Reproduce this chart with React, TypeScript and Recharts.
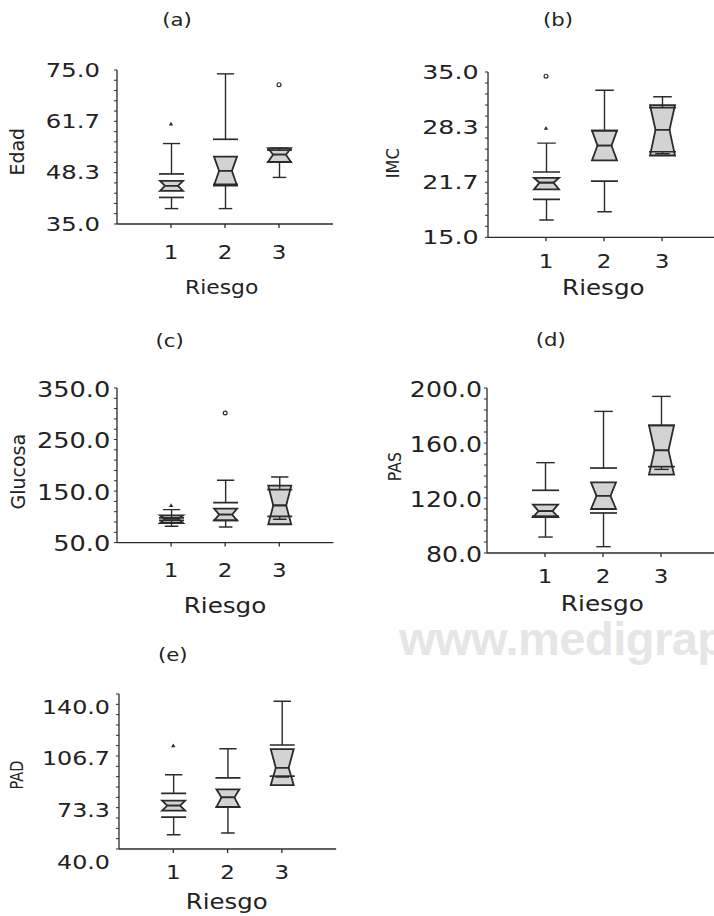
import React from "react";
import { ComposedChart, Bar, Scatter, XAxis, YAxis } from "recharts";

const groups = ["1", "2", "3"];
const ink = "#2b2b2b";
const boxFill = "#d3d3d3";
const font = "DejaVu Sans";

// (a) Edad
const edadLabels = ["35.0", "48.3", "61.7", "75.0"];
const edadLo = [39.0, 39.0, 47.1];
const edadCiLo = [41.9, 45.3, 51.1];
const edadQ1 = [43.6, 45.0, 51.1];
const edadMed = [44.9, 48.8, 53.0];
const edadQ3 = [46.2, 52.5, 54.7];
const edadCiHi = [48.0, 57.0, 54.2];
const edadHi = [55.9, 74.0, 54.7];
const edadOut = [
  { g: 1, v: 61.0, kind: "tri" },
  { g: 3, v: 71.2, kind: "circ" },
];

// (b) IMC
const imcLabels = ["15.0", "21.7", "28.3", "35.0"];
const imcLo = [17.1, 18.1, 25.1];
const imcCiLo = [19.6, 21.8, 25.35];
const imcQ1 = [20.8, 24.3, 24.9];
const imcMed = [21.6, 26.1, 28.0];
const imcQ3 = [22.2, 27.9, 31.0];
const imcCiHi = [22.9, 27.9, 30.7];
const imcHi = [26.4, 32.8, 32.0];
const imcOut = [
  { g: 1, v: 34.5, kind: "circ" },
  { g: 1, v: 28.2, kind: "tri" },
];

// (c) Glucosa
const gluLabels = ["50.0", "150.0", "250.0", "350.0"];
const gluLo = [81.6, 80.4, 95.2];
const gluCiLo = [93.0, 93.3, 101.0];
const gluQ1 = [88.0, 93.3, 85.6];
const gluMed = [96.0, 104.3, 122.0];
const gluQ3 = [103.0, 115.9, 160.6];
const gluCiHi = [98.0, 127.6, 152.8];
const gluHi = [114.0, 171.0, 177.4];
const gluOut = [
  { g: 1, v: 122.0, kind: "tri" },
  { g: 2, v: 301.5, kind: "circ" },
];

// (d) PAS
const pasLabels = ["80.0", "120.0", "160.0", "200.0"];
const pasLo = [91.6, 84.6, 140.8];
const pasCiLo = [106.8, 109.1, 142.8];
const pasQ1 = [106.2, 112.0, 137.0];
const pasMed = [110.5, 121.5, 154.7];
const pasQ3 = [115.2, 131.4, 172.8];
const pasCiHi = [125.6, 141.8, 172.8];
const pasHi = [145.7, 183.0, 193.9];
const pasOut: Out[] = [];

// (e) PAD
const padLabels = ["40.0", "73.3", "106.7", "140.0"];
const padLo = [49.2, 50.3, 86.4];
const padCiLo = [60.5, 67.1, 87.0];
const padQ1 = [64.8, 67.1, 81.2];
const padMed = [68.0, 73.3, 92.4];
const padQ3 = [71.2, 78.5, 104.5];
const padCiHi = [75.9, 85.9, 107.1];
const padHi = [87.9, 104.7, 135.3];
const padOut = [{ g: 1, v: 106.7, kind: "tri" }];

type Row = {
  name: string;
  g: number;
  lo: number;
  ciLo: number;
  q1: number;
  med: number;
  q3: number;
  ciHi: number;
  hi: number;
};
type Out = { g: number; v: number; kind: string };

function makeRows(
  lo: number[],
  ciLo: number[],
  q1: number[],
  med: number[],
  q3: number[],
  ciHi: number[],
  hi: number[]
): Row[] {
  return groups.map((name, i) => ({
    name,
    g: i + 1,
    lo: lo[i],
    ciLo: ciLo[i],
    q1: q1[i],
    med: med[i],
    q3: q3[i],
    ciHi: ciHi[i],
    hi: hi[i],
  }));
}

type PanelCfg = {
  left: number;
  top: number;
  slot: number;
  plotH: number;
  domain: [number, number];
  labels: string[];
  rows: Row[];
  outliers: Out[];
  yGap: number;
  yDy: number;
  xGap: number;
  fs: number;
  sx: number;
};

const panels: PanelCfg[] = [
  {
    left: 117, top: 70, slot: 54, plotH: 154, domain: [35, 75], labels: edadLabels,
    rows: makeRows(edadLo, edadCiLo, edadQ1, edadMed, edadQ3, edadCiHi, edadHi),
    outliers: edadOut, yGap: 17, yDy: 0, xGap: 21, fs: 19, sx: 1.28,
  },
  {
    left: 487.7, top: 72, slot: 58, plotH: 165.3, domain: [15, 35], labels: imcLabels,
    rows: makeRows(imcLo, imcCiLo, imcQ1, imcMed, imcQ3, imcCiHi, imcHi),
    outliers: imcOut, yGap: 9.4, yDy: 0, xGap: 16, fs: 19.5, sx: 1.3,
  },
  {
    left: 116.7, top: 387.7, slot: 54.1, plotH: 154.6, domain: [50, 350], labels: gluLabels,
    rows: makeRows(gluLo, gluCiLo, gluQ1, gluMed, gluQ3, gluCiHi, gluHi),
    outliers: gluOut, yGap: 6.7, yDy: 1, xGap: 20, fs: 20.5, sx: 1.25,
  },
  {
    left: 486.7, top: 387.7, slot: 58, plotH: 165, domain: [80, 200], labels: pasLabels,
    rows: makeRows(pasLo, pasCiLo, pasQ1, pasMed, pasQ3, pasCiHi, pasHi),
    outliers: pasOut, yGap: 5, yDy: 1, xGap: 16, fs: 21, sx: 1.2,
  },
  {
    left: 119, top: 694, slot: 54.3, plotH: 155, domain: [40, 140], labels: padLabels,
    rows: makeRows(padLo, padCiLo, padQ1, padMed, padQ3, padCiHi, padHi),
    outliers: padOut, yGap: 9, yDy: 13, xGap: 16, fs: 19.5, sx: 1.22,
  },
];

function Panel({ cfg }: { cfg: PanelCfg }) {
  const { slot } = cfg;
  const plotW = slot * 4;
  const yW = 110;
  const topM = 12;
  const rightM = 8;
  const xH = 44;
  const boxW = Math.round(slot * 0.43);
  const capHiW = slot * 0.32;
  const capLoW = slot * 0.25;
  const ciW = boxW + 2;
  const ind = boxW * 0.22;
  const [lo, hi] = cfg.domain;
  const ticks = Array.from({ length: 16 }, (_, i) => lo + (i * (hi - lo)) / 15);

  const yTick = (p: any) => {
    const i = Math.round(((p.payload.value - lo) / (hi - lo)) * 15);
    if (i % 5 !== 0) return <g />;
    return (
      <text
        transform={`translate(${p.x},${p.y + cfg.yDy}) scale(${cfg.sx},1)`}
        textAnchor="end"
        dominantBaseline="central"
        fontSize={cfg.fs}
        fontFamily={font}
        fill="#222"
      >
        {cfg.labels[i / 5]}
      </text>
    );
  };

  const xTick = (p: any) => (
    <text
      transform={`translate(${p.x},${p.y}) scale(1.15,1)`}
      textAnchor="middle"
      dy="0.72em"
      fontSize={20}
      fontFamily={font}
      fill="#222"
    >
      {p.payload.value}
    </text>
  );

  const upperBox = (p: any) => {
    const { x, y, width: w, height: h } = p;
    return (
      <polygon
        points={`${x},${y} ${x + w},${y} ${x + w - ind},${y + h} ${x + ind},${y + h}`}
        fill={boxFill}
        stroke={ink}
        strokeWidth={1.8}
      />
    );
  };
  const lowerBox = (p: any) => {
    const { x, y, width: w, height: h } = p;
    return (
      <polygon
        points={`${x + ind},${y} ${x + w - ind},${y} ${x + w},${y + h} ${x},${y + h}`}
        fill={boxFill}
        stroke={ink}
        strokeWidth={1.8}
      />
    );
  };
  // range [lo, ciLo]: cap at the bottom, notch limit line at the top
  const lowerWhisker = (p: any) => {
    const cx = p.x + p.width / 2;
    const t = p.y;
    const b = p.y + p.height;
    return (
      <g stroke={ink}>
        <line x1={cx} x2={cx} y1={t} y2={b} strokeWidth={1.4} />
        <line x1={cx - capLoW / 2} x2={cx + capLoW / 2} y1={b} y2={b} strokeWidth={1.4} />
        <line x1={cx - ciW / 2} x2={cx + ciW / 2} y1={t} y2={t} strokeWidth={1.7} />
      </g>
    );
  };
  // range [ciHi, hi]: cap at the top, notch limit line at the bottom
  const upperWhisker = (p: any) => {
    const cx = p.x + p.width / 2;
    const t = p.y;
    const b = p.y + p.height;
    return (
      <g stroke={ink}>
        <line x1={cx} x2={cx} y1={t} y2={b} strokeWidth={1.4} />
        <line x1={cx - capHiW / 2} x2={cx + capHiW / 2} y1={t} y2={t} strokeWidth={1.4} />
        <line x1={cx - ciW / 2} x2={cx + ciW / 2} y1={b} y2={b} strokeWidth={1.7} />
      </g>
    );
  };
  const outShape = (p: any) => {
    const { cx, cy, payload } = p;
    if (payload.kind === "tri") {
      return (
        <polygon
          points={`${cx},${cy - 2.2} ${cx + 2.2},${cy + 1.6} ${cx - 2.2},${cy + 1.6}`}
          fill={ink}
        />
      );
    }
    return <circle cx={cx} cy={cy} r={1.9} fill="#fff" stroke={ink} strokeWidth={1.2} />;
  };

  return (
    <div style={{ position: "absolute", left: cfg.left - yW, top: cfg.top - topM }}>
      <ComposedChart
        width={yW + plotW + rightM}
        height={topM + cfg.plotH + xH}
        data={cfg.rows}
        margin={{ top: topM, right: rightM, bottom: 0, left: 0 }}
      >
        <XAxis
          xAxisId="n"
          type="number"
          dataKey="g"
          domain={[0, 4]}
          ticks={[1, 2, 3]}
          interval={0}
          allowDataOverflow
          height={xH}
          tickSize={4}
          tickMargin={cfg.xGap - 4}
          tick={xTick}
          axisLine={{ stroke: ink, strokeWidth: 1.3 }}
          tickLine={{ stroke: ink, strokeWidth: 1.3 }}
        />
        {["h1", "h2", "w1", "w2"].map((id) => (
          <XAxis
            key={id}
            xAxisId={id}
            type="category"
            dataKey="name"
            hide
            orientation="top"
            height={0}
            padding={{ left: slot / 2, right: slot / 2 }}
          />
        ))}
        <YAxis
          type="number"
          domain={cfg.domain}
          allowDataOverflow
          ticks={ticks}
          interval={0}
          width={yW}
          tickSize={3}
          tickMargin={cfg.yGap - 3}
          tick={yTick}
          axisLine={{ stroke: ink, strokeWidth: 1.3 }}
          tickLine={{ stroke: ink, strokeWidth: 1 }}
        />
        <Bar xAxisId="h1" dataKey={(r: Row) => [r.med, r.q3]} barSize={boxW} shape={upperBox} isAnimationActive={false} />
        <Bar xAxisId="h2" dataKey={(r: Row) => [r.q1, r.med]} barSize={boxW} shape={lowerBox} isAnimationActive={false} />
        <Bar xAxisId="w1" dataKey={(r: Row) => [r.lo, r.ciLo]} barSize={boxW} shape={lowerWhisker} isAnimationActive={false} />
        <Bar xAxisId="w2" dataKey={(r: Row) => [r.ciHi, r.hi]} barSize={boxW} shape={upperWhisker} isAnimationActive={false} />
        <Scatter xAxisId="n" data={cfg.outliers} dataKey="v" shape={outShape} isAnimationActive={false} />
      </ComposedChart>
    </div>
  );
}

function Txt({
  x, y, size, sx = 1, rot = 0, children,
}: { x: number; y: number; size: number; sx?: number; rot?: number; children: string }) {
  return (
    <text
      transform={`translate(${x},${y}) rotate(${rot}) scale(${sx},1)`}
      textAnchor="middle"
      dominantBaseline="central"
      fontSize={size}
      fontFamily={font}
      fill="#222"
    >
      {children}
    </text>
  );
}

export default function App() {
  return (
    <div
      style={{
        position: "fixed", left: 0, top: 0, width: 714, height: 916,
        overflow: "hidden", background: "#fff",
      }}
    >
      <svg width={714} height={916} style={{ position: "absolute", left: 0, top: 0 }}>
        <text x={399} y={655} fontSize={47} fontWeight="bold" letterSpacing={-0.5} fontFamily="Liberation Sans" fill="#e6e6e6">
          www.medigrap
        </text>
        <Txt x={177} y={20.7} size={17} sx={1.25}>(a)</Txt>
        <Txt x={558} y={20} size={17} sx={1.25}>(b)</Txt>
        <Txt x={169.7} y={341.7} size={17} sx={1.25}>(c)</Txt>
        <Txt x={550.7} y={340} size={17} sx={1.25}>(d)</Txt>
        <Txt x={172.7} y={655} size={17} sx={1.25}>(e)</Txt>

        <Txt x={221.7} y={287.3} size={19.5} sx={1.12}>Riesgo</Txt>
        <Txt x={603.3} y={287.3} size={20.5} sx={1.2}>Riesgo</Txt>
        <Txt x={225} y={605} size={22} sx={1.12}>Riesgo</Txt>
        <Txt x={602.3} y={604} size={21.5} sx={1.15}>Riesgo</Txt>
        <Txt x={226.7} y={901.7} size={21} sx={1.16}>Riesgo</Txt>

        <Txt x={16.7} y={151.7} size={19} rot={-90}>Edad</Txt>
        <Txt x={393.3} y={163.3} size={17} sx={0.95} rot={-90}>IMC</Txt>
        <Txt x={18.3} y={471.7} size={19} rot={-90}>Glucosa</Txt>
        <Txt x={395} y={466.7} size={18} sx={0.87} rot={-90}>PAS</Txt>
        <Txt x={16.7} y={775} size={18} sx={0.81} rot={-90}>PAD</Txt>
      </svg>
      {panels.map((p, i) => (
        <Panel key={i} cfg={p} />
      ))}
    </div>
  );
}
